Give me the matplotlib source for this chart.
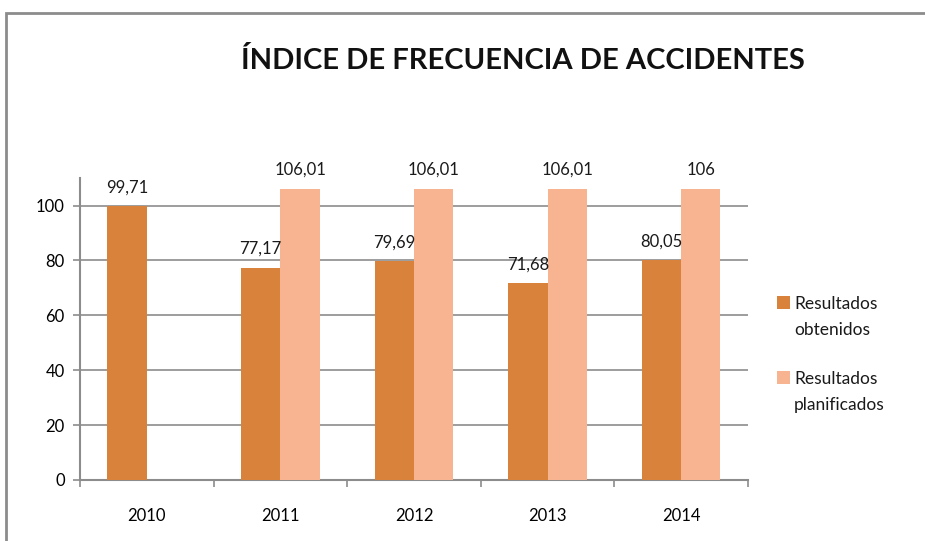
import matplotlib.pyplot as plt
from matplotlib.patches import Rectangle
import numpy as np

years = ['2010', '2011', '2012', '2013', '2014']
obtenidos = [99.71, 77.17, 79.69, 71.68, 80.05]
planificados = [None, 106.01, 106.01, 106.01, 106]
labels_obt = ['99,71', '77,17', '79,69', '71,68', '80,05']
labels_plan = ['', '106,01', '106,01', '106,01', '106']
series_names = ['Resultados\nobtenidos', 'Resultados\nplanificados']

plt.rcParams['font.family'] = ['Lato', 'DejaVu Sans']

W, H = 925, 541
fig = plt.figure(figsize=(W / 100, H / 100), dpi=100)
ax = fig.add_axes([0.0865, 0.1128, 0.722, 0.558])

# outer frame of the chart area
fig.patches.append(Rectangle((6 / W, -0.1), 1.2, 1 - 13 / H + 0.1,
                             transform=fig.transFigure, fill=False,
                             edgecolor='#8c8c8c', linewidth=2))

x = np.arange(len(years))
w = 0.295
c_obt = '#D9823B'
c_plan = '#F8B490'

ax.bar(x - w / 2, obtenidos, w, color=c_obt, zorder=3)
plan_x = [xi + w / 2 for xi, v in zip(x, planificados) if v is not None]
plan_v = [v for v in planificados if v is not None]
ax.bar(plan_x, plan_v, w, color=c_plan, zorder=3)

for xi, v, t in zip(x, obtenidos, labels_obt):
    ax.annotate(t, (xi - w / 2, v), xytext=(0, 8), textcoords='offset points',
                ha='center', va='bottom', fontsize=12, color='#1a1a1a')
for xi, v, t in zip(x, planificados, labels_plan):
    if v is None:
        continue
    ax.annotate(t, (xi + w / 2, v), xytext=(0, 8), textcoords='offset points',
                ha='center', va='bottom', fontsize=12, color='#1a1a1a')

ax.set_xlim(-0.5, 4.5)
ax.set_ylim(0, 110)
ax.set_yticks([0, 20, 40, 60, 80, 100])
ax.set_xticks(x)
ax.set_xticklabels(years)
ax.set_xticks(np.arange(-0.5, 5.0, 1.0), minor=True)
ax.tick_params(axis='x', which='major', length=0, pad=20, labelsize=12)
ax.tick_params(axis='x', which='minor', length=5, color='#8c8c8c', width=1.2)
ax.tick_params(axis='y', length=5, color='#8c8c8c', width=1.2, labelsize=12, pad=6)

ax.grid(axis='y', color='#8c8c8c', linewidth=1.2, zorder=0)
for s in ['top', 'right']:
    ax.spines[s].set_visible(False)
for s in ['left', 'bottom']:
    ax.spines[s].set_color('#8c8c8c')
    ax.spines[s].set_linewidth(1.5)

fig.text(0.565, 0.888, 'ÍNDICE DE FRECUENCIA DE ACCIDENTES', ha='center', va='center',
         fontsize=21, fontweight='bold', color='#111111')

# legend: square aligned with the first line of each two-line label
for i, (name, col) in enumerate(zip(series_names, [c_obt, c_plan])):
    top = 296 + i * 75
    fig.patches.append(Rectangle((777 / W, 1 - (top + 13) / H), 13 / W, 13 / H,
                                 transform=fig.transFigure, facecolor=col,
                                 edgecolor='none'))
    fig.text(794 / W, 1 - top / H, name, ha='left', va='top',
             fontsize=12.5, linespacing=1.8, color='#1a1a1a')

fig.savefig('out.png', dpi=100)
